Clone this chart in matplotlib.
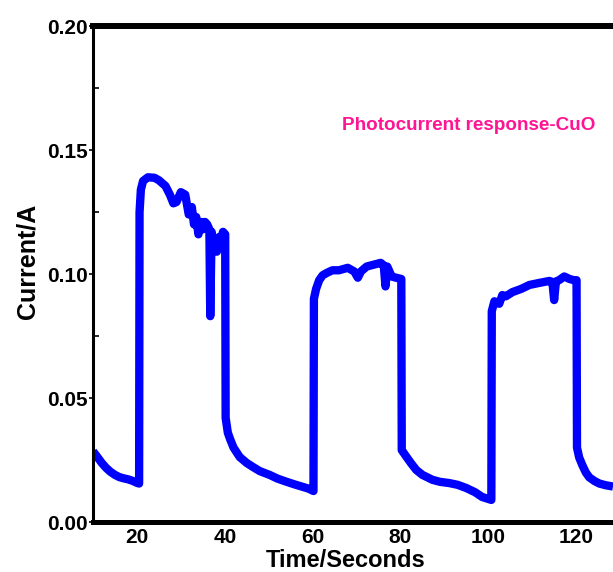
import matplotlib
matplotlib.use("Agg")
import matplotlib.pyplot as plt
from matplotlib.ticker import MultipleLocator, FormatStrFormatter

# ---- data ----
time_s = [
    10.0, 11.0, 12.0, 13.0, 14.0, 15.0, 16.0, 17.0, 18.0, 19.0, 20.0, 20.5,
    20.6, 20.9, 21.4, 22.5, 24.0, 25.0, 26.5, 27.5, 28.3, 29.0, 30.0, 31.0,
    31.8, 32.5, 33.0, 33.5, 34.0, 34.6, 35.0, 35.5, 36.0, 36.5, 36.7, 37.0,
    37.5, 37.8, 38.2, 38.8, 39.2, 39.6, 40.1,
    40.2, 40.7, 41.2, 42.0, 43.4, 45.0, 46.4, 48.0, 50.2, 52.0, 54.1, 56.0,
    57.7, 59.0, 60.2,
    60.3, 60.8, 61.5, 62.3, 63.3, 64.5, 66.0, 68.0, 69.5, 70.3, 71.0, 72.3,
    74.0, 75.5, 76.2, 76.6, 77.0, 78.0, 79.0, 80.2,
    80.3, 81.4, 82.5, 83.6, 85.0, 87.3, 89.0, 91.1, 93.0, 95.0, 97.0, 98.6,
    100.7,
    100.8, 101.4, 102.5, 103.2, 104.0, 105.5, 107.5, 109.4, 111.6, 113.9,
    114.6, 115.0, 115.4, 116.1, 117.3, 118.5, 119.5, 120.1,
    120.2, 120.7, 121.4, 122.2, 123.0, 124.2, 125.3, 126.8, 128.4,
]
current_a = [
    0.0285, 0.0262, 0.0238, 0.0218, 0.0202, 0.0190, 0.0181, 0.0176, 0.0172,
    0.0166, 0.0158, 0.0155,
    0.1250, 0.1340, 0.1375, 0.1390, 0.1388, 0.1378, 0.1355, 0.1320, 0.1285,
    0.1290, 0.1330, 0.1320,
    0.1240, 0.1270, 0.1200, 0.1230, 0.1160, 0.1210, 0.1180, 0.1210, 0.1200,
    0.1180, 0.0830, 0.1170, 0.1120, 0.1140, 0.1090, 0.1150, 0.1120, 0.1170,
    0.1160,
    0.0420, 0.0360, 0.0335, 0.0300, 0.0262, 0.0238, 0.0222, 0.0205, 0.0190,
    0.0175, 0.0162, 0.0151, 0.0142, 0.0135, 0.0125,
    0.0900, 0.0940, 0.0975, 0.0995, 0.1005, 0.1015, 0.1015, 0.1025, 0.1010,
    0.0985, 0.1010, 0.1030, 0.1038, 0.1045, 0.1035, 0.0950, 0.1030, 0.0990,
    0.0985, 0.0980,
    0.0290, 0.0262, 0.0235, 0.0210, 0.0190, 0.0170, 0.0162, 0.0157, 0.0150,
    0.0137, 0.0120, 0.0101, 0.0089,
    0.0850, 0.0890, 0.0880, 0.0915, 0.0910, 0.0927, 0.0940, 0.0956, 0.0964,
    0.0972, 0.0968, 0.0895, 0.0970, 0.0975, 0.0990, 0.0980, 0.0975, 0.0975,
    0.0300, 0.0260, 0.0230, 0.0200, 0.0180, 0.0165, 0.0155, 0.0148, 0.0143,
]
x_ticks = [20, 40, 60, 80, 100, 120]
y_ticks = [0.00, 0.05, 0.10, 0.15, 0.20]

plt.rcParams['font.family'] = ['Liberation Sans', 'DejaVu Sans']

W, H = 613, 572
fig = plt.figure(figsize=(W / 100, H / 100), dpi=100)
ax = fig.add_axes([93 / W, 50 / H, 520 / W, 496 / H])

ax.plot(time_s, current_a, color='#0000FF', linewidth=6.0,
        solid_joinstyle='round', solid_capstyle='butt')

ax.set_xlim(10, 128.4)
ax.set_ylim(0.0, 0.20)

ax.set_xticks(x_ticks)
ax.set_yticks(y_ticks)
ax.yaxis.set_major_formatter(FormatStrFormatter('%.2f'))
ax.yaxis.set_minor_locator(MultipleLocator(0.025))

for lab in ax.get_xticklabels() + ax.get_yticklabels():
    lab.set_fontweight('bold')
    lab.set_fontsize(15)

ax.tick_params(axis='y', which='major', direction='out', length=3, width=1.2, pad=1)
ax.tick_params(axis='y', which='minor', direction='in', length=4, width=1.2)
ax.tick_params(axis='x', which='major', direction='out', length=2, width=1.2, pad=2)

ax.spines['right'].set_visible(False)
ax.spines['top'].set_linewidth(4.3)
ax.spines['bottom'].set_linewidth(3.6)
ax.spines['left'].set_linewidth(2.2)

ax.set_xlabel('Time/Seconds', fontsize=17, fontweight='bold')
ax.xaxis.set_label_coords((346 - 93) / 520, -0.055, transform=ax.transAxes)
ax.xaxis.label.set_va('top')
ax.set_ylabel('Current/A', fontsize=18, fontweight='bold')
ax.yaxis.set_label_coords(-0.102, (522 - 261) / 496, transform=ax.transAxes)

ax.text(469 / W, 1 - 125 / H, 'Photocurrent response-CuO', transform=fig.transFigure,
        color='#FF1493', fontsize=13.6, fontweight='bold', ha='center', va='center')

fig.savefig('out.png', dpi=100)
